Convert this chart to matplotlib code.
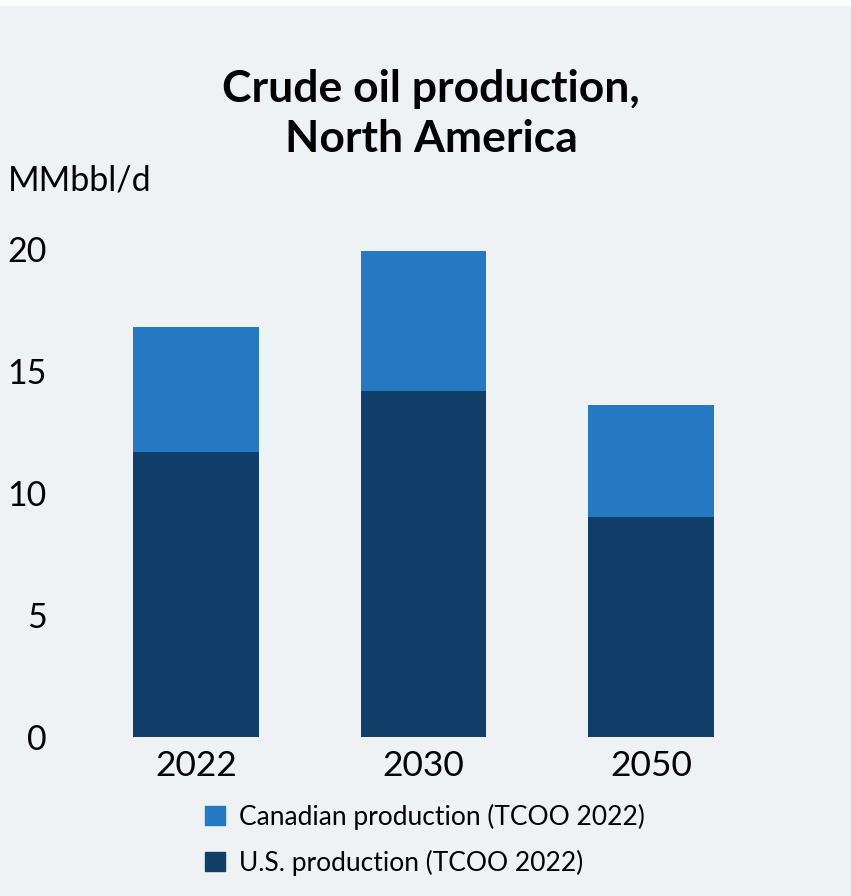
import matplotlib.pyplot as plt
from matplotlib.patches import Patch, Rectangle

years = ['2022', '2030', '2050']
us_prod = [11.7, 14.2, 9.0]
canada_prod = [5.1, 5.7, 4.6]
yticks = [0, 5, 10, 15, 20]

us_color = '#103f69'
ca_color = '#2479c2'
bg = '#eef2f5'

plt.rcParams['font.family'] = ['Lato', 'DejaVu Sans']

fig = plt.figure(figsize=(8.51, 8.96), dpi=100, facecolor=bg)
# thin white band along the top edge
fig.add_artist(Rectangle((0, 0.994), 1, 0.006, transform=fig.transFigure,
                         color='white', zorder=0))

ax = fig.add_axes([70/851, 159/896, 730/851, 488/896])
ax.set_facecolor('none')

x = range(len(years))
ax.bar(x, us_prod, width=0.55, color=us_color)
ax.bar(x, canada_prod, width=0.55, bottom=us_prod, color=ca_color)

ax.set_xlim(-0.554, 2.655)
ax.set_ylim(0, 20)
ax.set_yticks(yticks)
ax.set_yticklabels([str(t) for t in yticks], fontsize=24.5)
ax.set_xticks(list(x))
ax.set_xticklabels(years, fontsize=25.5)
ax.tick_params(axis='y', length=0, pad=17)
ax.tick_params(axis='x', length=0, pad=9)
for s in ax.spines.values():
    s.set_visible(False)

fig.text(8/851, 1 - 180/896, 'MMbbl/d', fontsize=24.5, va='center', ha='left')
fig.text(431/851, 1 - 114/896, 'Crude oil production,\nNorth America',
         fontsize=32, fontweight='bold', ha='center', va='center',
         linespacing=1.3)

handles = [Patch(color=ca_color, label='Canadian production (TCOO 2022)'),
           Patch(color=us_color, label='U.S. production (TCOO 2022)')]
fig.legend(handles=handles, loc='upper left',
           bbox_to_anchor=(181/851, 1 - 780/896), frameon=False,
           fontsize=19, handlelength=0.75, handleheight=0.75,
           handletextpad=0.55, labelspacing=0.75)

plt.savefig('out.png', dpi=100, facecolor=bg)
